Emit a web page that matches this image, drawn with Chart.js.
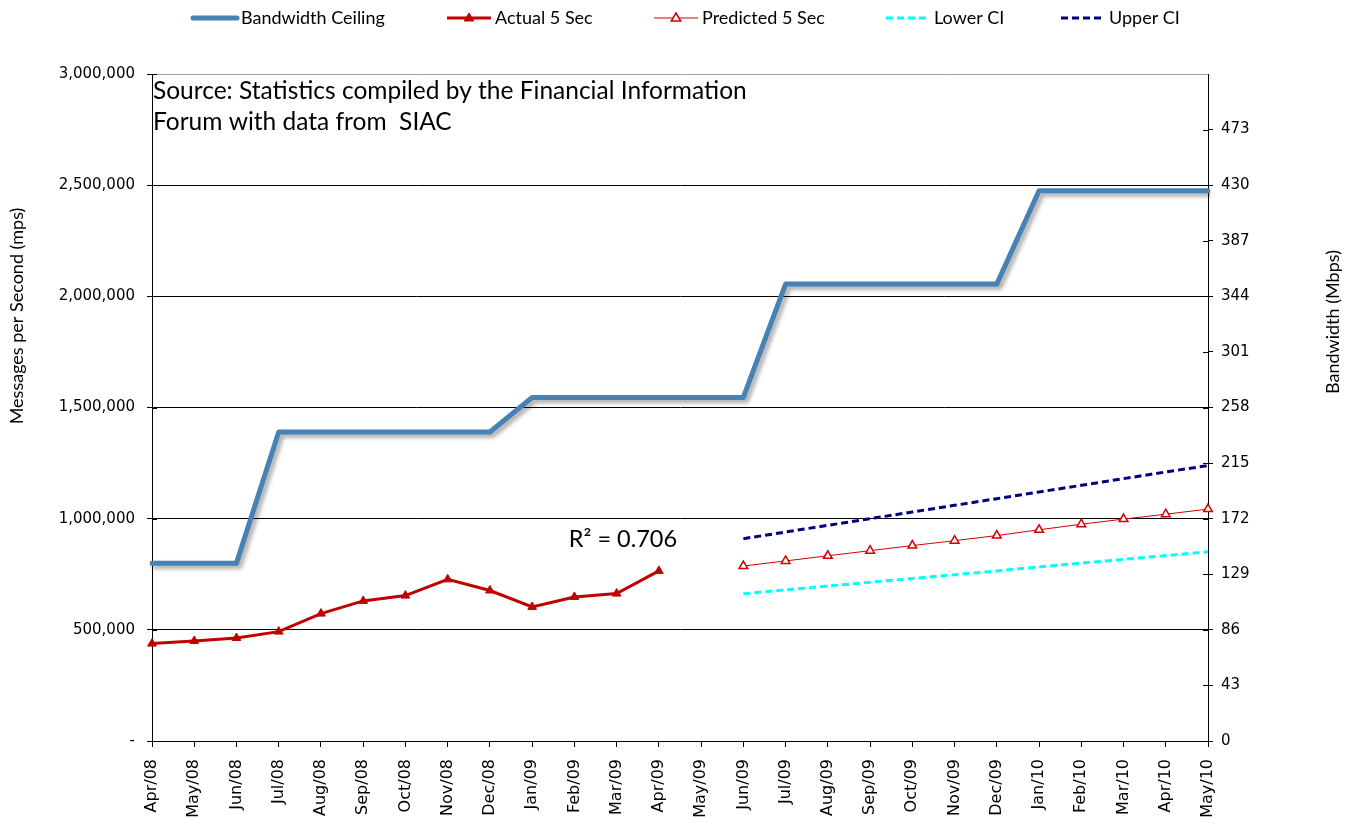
<!DOCTYPE html>
<html>
<head>
<meta charset="utf-8">
<script src="https://cdn.jsdelivr.net/npm/chart.js@4.4.1/dist/chart.umd.min.js"></script>
<style>
  html, body { margin: 0; padding: 0; background: #fff; }
</style>
</head>
<body>
<canvas id="myChart" width="1345" height="829"></canvas>
<script>
// ---- data ----
const months = ['Apr/08','May/08','Jun/08','Jul/08','Aug/08','Sep/08','Oct/08','Nov/08','Dec/08',
                'Jan/09','Feb/09','Mar/09','Apr/09','May/09','Jun/09','Jul/09','Aug/09','Sep/09',
                'Oct/09','Nov/09','Dec/09','Jan/10','Feb/10','Mar/10','Apr/10','May/10'];

const bandwidthCeiling = [800000, 800000, 800000, 1390000, 1390000, 1390000, 1390000, 1390000, 1390000,
                          1545000, 1545000, 1545000, 1545000, 1545000, 1545000, 2055000, 2055000, 2055000,
                          2055000, 2055000, 2055000, 2475000, 2475000, 2475000, 2475000, 2475000];

const actual5Sec = [438000, 450000, 463000, 492000, 573000, 630000, 654000, 727000, 677000,
                    603000, 648000, 663000, 765000, null, null, null, null, null,
                    null, null, null, null, null, null, null, null];

const predicted5Sec = [null, null, null, null, null, null, null, null, null,
                       null, null, null, null, null, 787000, 810000, 833000, 856000,
                       879000, 901000, 924000, 950000, 975000, 998000, 1020000, 1043000];

const lowerCI = [null, null, null, null, null, null, null, null, null,
                 null, null, null, null, null, 662000, 680000, 697000, 714000,
                 731000, 748000, 765000, 783000, 800000, 817000, 834000, 851000];

const upperCI = [null, null, null, null, null, null, null, null, null,
                 null, null, null, null, null, 910000, 940000, 970000, 1000000,
                 1030000, 1060000, 1090000, 1120000, 1150000, 1180000, 1210000, 1239000];

const mpsMax = 3000000, mpsStep = 500000;
const mbpsMax = 516, mbpsStep = 43;
const rSquared = 'R² = 0.706';
const sourceNote = ['Source: Statistics compiled by the Financial Information', 'Forum with data from  SIAC'];

const textFamily = 'Lato, "Open Sans", sans-serif';

// gray drop shadow under the ceiling line
const shadowPlugin = {
  id: 'shadow',
  beforeDatasetDraw(chart, args) {
    if (args.index !== 0) return;
    const c = chart.ctx;
    c.save();
    c.shadowColor = 'rgba(0,0,0,0.35)';
    c.shadowOffsetX = 3;
    c.shadowOffsetY = 3;
    c.shadowBlur = 4;
  },
  afterDatasetDraw(chart, args) {
    if (args.index === 0) chart.ctx.restore();
  }
};

// legend, axis titles, inner tick marks and text notes
const extrasPlugin = {
  id: 'extras',
  afterDraw(chart) {
    const c = chart.ctx;
    const area = chart.chartArea;
    c.save();

    // inner half of the "cross" tick marks on both value axes
    c.strokeStyle = '#000';
    c.lineWidth = 1;
    chart.scales.y.ticks.forEach(t => {
      const y = Math.round(chart.scales.y.getPixelForValue(t.value)) + 0.5;
      c.beginPath(); c.moveTo(area.left, y); c.lineTo(area.left + 5, y); c.stroke();
    });
    chart.scales.y1.ticks.forEach(t => {
      if (t.value === mbpsMax) return;
      const y = Math.round(chart.scales.y1.getPixelForValue(t.value)) + 0.5;
      c.beginPath(); c.moveTo(area.right - 5, y); c.lineTo(area.right, y); c.stroke();
    });

    // legend
    const legendX = [193, 447, 654, 886, 1061];
    const ly = 18;
    c.font = '18px ' + textFamily;
    c.textBaseline = 'middle';
    c.textAlign = 'left';
    chart.data.datasets.forEach((ds, i) => {
      const x0 = legendX[i];
      c.save();
      c.strokeStyle = ds.borderColor;
      c.lineWidth = ds.borderWidth;
      c.lineCap = i === 0 ? 'round' : 'butt';
      c.setLineDash(ds.borderDash || []);
      c.beginPath();
      c.moveTo(x0, ly);
      c.lineTo(x0 + 44, ly);
      c.stroke();
      c.restore();
      if (ds.pointRadius) {
        const cx = x0 + 22, r = ds.pointRadius;
        c.beginPath();
        c.moveTo(cx, ly - r);
        c.lineTo(cx + r * 0.95, ly + r * 0.6);
        c.lineTo(cx - r * 0.95, ly + r * 0.6);
        c.closePath();
        c.fillStyle = ds.pointBackgroundColor;
        c.fill();
        c.lineWidth = ds.pointBorderWidth;
        c.strokeStyle = ds.borderColor;
        c.stroke();
      }
      c.fillStyle = '#000';
      c.fillText(ds.label, x0 + 48, ly);
    });

    // axis titles
    c.font = '18px ' + textFamily;
    c.textAlign = 'center';
    c.fillStyle = '#000';
    c.save();
    c.translate(17, 316);
    c.rotate(-Math.PI / 2);
    c.fillText('Messages per Second (mps)', 0, 0);
    c.restore();
    c.save();
    c.translate(1333, 322);
    c.rotate(-Math.PI / 2);
    c.fillText('Bandwidth (Mbps)', 0, 0);
    c.restore();

    // source note
    c.textAlign = 'left';
    c.textBaseline = 'alphabetic';
    c.font = '24.5px ' + textFamily;
    c.fillText(sourceNote[0], area.left + 1, area.top + 25);
    c.fillText(sourceNote[1], area.left + 1, area.top + 56);

    // R squared label
    const xs = chart.scales.x, ys = chart.scales.y;
    c.font = '23.5px ' + textFamily;
    c.textAlign = 'center';
    c.textBaseline = 'middle';
    c.fillText(rSquared, xs.getPixelForValue(11.15), ys.getPixelForValue(905000));
    c.restore();
  }
};

const ctx = document.getElementById('myChart').getContext('2d');
const myChart = new Chart(ctx, {
  type: 'line',
  data: {
    labels: months,
    datasets: [
      {
        label: 'Bandwidth Ceiling',
        data: bandwidthCeiling,
        borderColor: '#4682B4',
        borderWidth: 5,
        borderJoinStyle: 'round',
        borderCapStyle: 'round',
        pointRadius: 0,
        yAxisID: 'y'
      },
      {
        label: 'Actual 5 Sec',
        data: actual5Sec,
        borderColor: '#C00000',
        borderWidth: 3,
        pointStyle: 'triangle',
        pointRadius: 5,
        pointBackgroundColor: '#C00000',
        pointBorderColor: '#C00000',
        pointBorderWidth: 1,
        yAxisID: 'y'
      },
      {
        label: 'Predicted 5 Sec',
        data: predicted5Sec,
        borderColor: '#D00000',
        borderWidth: 1,
        pointStyle: 'triangle',
        pointRadius: 5,
        pointBackgroundColor: '#ffffff',
        pointBorderColor: '#D00000',
        pointBorderWidth: 1.5,
        yAxisID: 'y'
      },
      {
        label: 'Lower CI',
        data: lowerCI,
        borderColor: '#00FFFF',
        borderWidth: 3,
        borderDash: [7, 4],
        pointRadius: 0,
        yAxisID: 'y'
      },
      {
        label: 'Upper CI',
        data: upperCI,
        borderColor: '#000080',
        borderWidth: 3,
        borderDash: [7, 4],
        pointRadius: 0,
        yAxisID: 'y'
      }
    ]
  },
  options: {
    responsive: false,
    animation: false,
    layout: { padding: { top: 74, left: 0, right: 0, bottom: 0 } },
    elements: { line: { tension: 0 } },
    plugins: {
      legend: { display: false },
      tooltip: { enabled: false }
    },
    scales: {
      x: {
        offset: false,
        grid: { drawOnChartArea: false, color: '#000', tickLength: 6 },
        border: { color: '#000', width: 1 },
        ticks: { font: { family: 'DejaVu Sans', size: 16 }, color: '#000', minRotation: 90, maxRotation: 90, padding: 12, autoSkip: false },
        afterFit(scale) { scale.height = 88; }
      },
      y: {
        position: 'left',
        min: 0,
        max: mpsMax,
        ticks: {
          stepSize: mpsStep,
          font: { family: 'DejaVu Sans', size: 15 },
          color: '#000',
          padding: 12,
          callback: v => v === 0 ? '-' : v.toLocaleString('en-US')
        },
        grid: {
          color: c => (c.tick && c.tick.value === mpsMax) ? '#a0a0a0' : '#000',
          tickColor: '#000',
          tickLength: 5
        },
        border: { color: '#000', width: 1 },
        afterFit(scale) { scale.width = 152; }
      },
      y1: {
        position: 'right',
        min: 0,
        max: mbpsMax,
        ticks: {
          stepSize: mbpsStep,
          font: { family: 'DejaVu Sans', size: 15 },
          color: '#000',
          padding: 8,
          callback: v => v === mbpsMax ? '' : v
        },
        grid: {
          drawOnChartArea: false,
          tickColor: c => (c.tick && c.tick.value === mbpsMax) ? 'rgba(0,0,0,0)' : '#000',
          tickLength: 5
        },
        border: { color: '#000', width: 1 },
        afterFit(scale) { scale.width = 137; }
      }
    }
  },
  plugins: [shadowPlugin, extrasPlugin]
});
</script>
</body>
</html>
